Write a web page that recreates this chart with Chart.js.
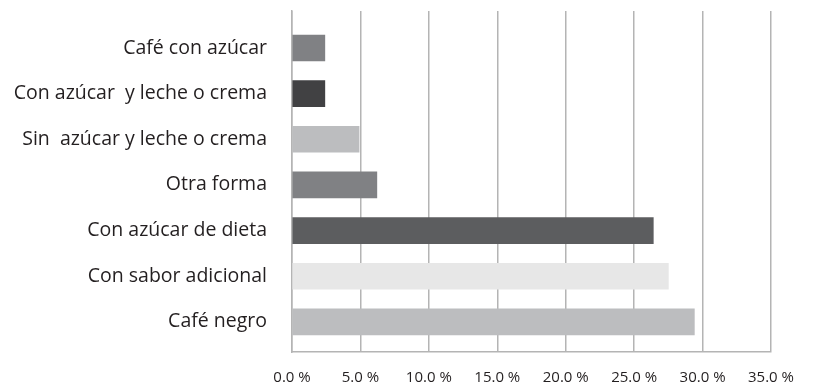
<!DOCTYPE html>
<html>
<head>
<meta charset="utf-8">
<script src="https://cdn.jsdelivr.net/npm/chart.js@4.4.1/dist/chart.umd.min.js"></script>
<style>
  html, body { margin: 0; padding: 0; background: #fff; }
  #wrap { width: 813px; height: 391px; }
</style>
</head>
<body>
<div id="wrap"><canvas id="chart"></canvas></div>
<script>
// categories top to bottom
const categories = [
   "Café con azúcar",
   "Con azúcar  y leche o crema",
   "Sin  azúcar y leche o crema",
   "Otra forma",
   "Con azúcar de dieta",
   "Con sabor adicional",
   "Café negro",
]
const percentages = [2.4, 2.4, 4.9, 6.2, 26.4, 27.5, 29.4]
const barColors = ["#808184", "#414143", "#bcbdbf", "#808184", "#5c5d5f", "#e7e7e7", "#bcbdbf"]
const xTicks = [0, 5, 10, 15, 20, 25, 30, 35]

const lineGray = "#b4b4b4"
const textColor = "#231f20"
const fontFamily = "'Open Sans', Lato, sans-serif"

const ctx = document.getElementById("chart").getContext("2d")
new Chart(ctx, {
   type: "bar",
   data: {
      datasets: [
         {
            data: percentages.map((v, i) => ({ x: v, y: i })),
            backgroundColor: barColors,
            barThickness: 26,
            borderWidth: 0,
         },
      ],
   },
   options: {
      indexAxis: "y",
      responsive: true,
      maintainAspectRatio: false,
      animation: false,
      layout: { padding: { left: 10, right: 42, top: 11, bottom: 0 } },
      plugins: { legend: { display: false }, tooltip: { enabled: false } },
      scales: {
         x: {
            type: "linear",
            min: xTicks[0],
            max: xTicks[xTicks.length - 1],
            afterBuildTicks: scale => {
               scale.ticks = xTicks.map(v => ({ value: v }))
            },
            afterFit: scale => {
               scale.height = 39
               scale.paddingLeft = 0
               scale.paddingRight = 0
            },
            grid: { color: lineGray, lineWidth: 1.5, drawTicks: false },
            border: { display: true, color: lineGray, width: 1.5 },
            ticks: {
               padding: 17,
               color: textColor,
               font: { family: fontFamily, size: 15 },
               maxRotation: 0,
               callback: v => v.toFixed(1) + " %",
            },
         },
         y: {
            type: "linear",
            reverse: true,
            offset: false,
            min: -0.81,
            max: 6.66,
            afterBuildTicks: scale => {
               scale.ticks = categories.map((c, i) => ({ value: i }))
            },
            afterFit: scale => {
               scale.width = 282
               scale.paddingTop = 0
               scale.paddingBottom = 0
            },
            grid: { display: false, drawTicks: false, offset: false },
            border: { display: true, color: lineGray, width: 1.5 },
            ticks: {
               padding: 25,
               color: textColor,
               font: { family: fontFamily, size: 19.5 },
               callback: v => categories[v],
            },
         },
      },
   },
})
</script>
</body>
</html>
